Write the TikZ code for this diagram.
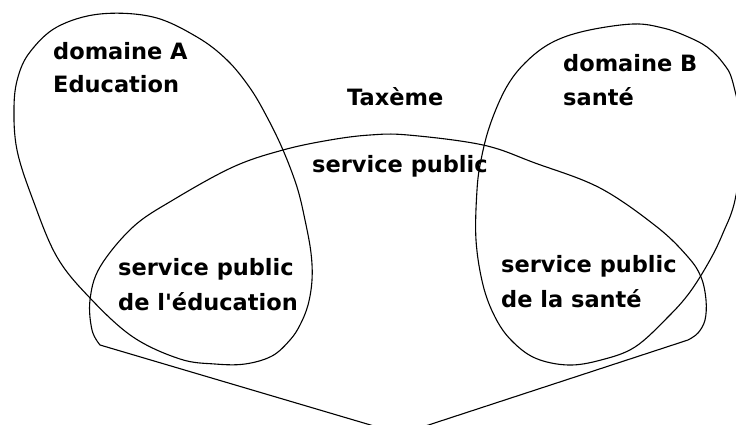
\documentclass[tikz,border=0pt]{standalone}
\usepackage{fontspec}
\setmainfont{DejaVu Sans}
\begin{document}
\begin{tikzpicture}[x=1pt,y=-1pt,
  loop/.style={draw=black,line width=1.1pt,line join=round},
  lbl/.style={anchor=base west,inner sep=0pt,font=\fontsize{22.5}{27}\selectfont\bfseries}]
\useasboundingbox (0,0) rectangle (736,425);
\fill[white] (0,0) rectangle (736,425);
\begin{scope}
\clip (0,0) rectangle (736,425);
% domaine A
\draw[loop] plot[smooth cycle, tension=0.6] coordinates {
  (100,14) (153,17) (197,37) (227,60) (250,88) (267,117) (283,150) (297,187)
  (305,220) (311,253) (312,280) (308,305) (300,325) (290,340) (272,356)
  (245,364) (215,364) (180,359) (133,337) (90,298) (57,257) (33,200)
  (17,150) (14,107) (18,77) (30,52) (57,27)};
% domaine B
\draw[loop] plot[smooth cycle, tension=0.6] coordinates {
  (633,24) (663,28) (686,36) (707,47) (723,63) (733,83) (743,140)
  (735,200) (723,233) (710,260) (690,292) (668,317) (635,347) (601,360)
  (568,365) (535,358) (511,340) (495,317) (483,285) (476,240) (477,190)
  (481,160) (490,125) (506,88) (525,63) (551,43) (585,31)};
% service public (Taxeme)
\coordinate (V) at (401,434);
\draw[loop] (V) -- (100,345) -- plot[smooth, tension=0.6] coordinates {
  (100,345) (92,330) (90,300) (100,267) (133,227) (173,200) (233,167)
  (283,150) (330,140) (370,135) (408,135) (483,145) (535,163) (600,188)
  (657,227) (688,257) (701,277) (706,300) (705,320) (698,333) (688,340)}
  -- (V);
\end{scope}
\node[lbl] (dA) at (53,60) {domaine A};
\node[lbl] (edu) at (53,93) {Education};
\node[lbl] (tax) at (347,106) {Taxème};
\node[lbl] (dB) at (563,72) {domaine B};
\node[lbl] (sante) at (563,106) {santé};
\node[lbl] (sp) at (312,172) {service public};
\node[lbl] (spe1) at (118,275) {service public};
\node[lbl] (spe2) at (118,310) {de l\textquotesingle éducation};
\node[lbl] (sps1) at (501,272) {service public};
\node[lbl] (sps2) at (501,307) {de la santé};
\end{tikzpicture}
\end{document}
